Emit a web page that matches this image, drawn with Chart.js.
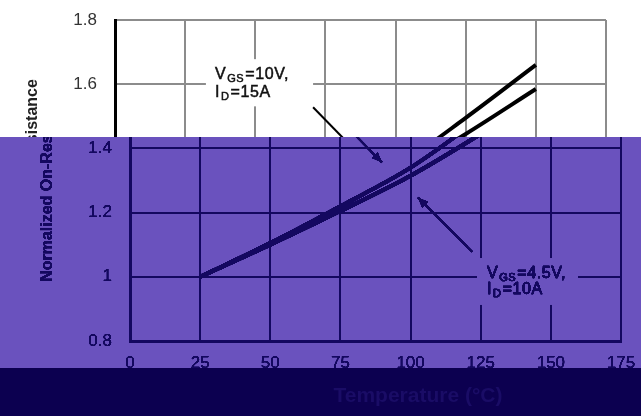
<!DOCTYPE html>
<html>
<head>
<meta charset="utf-8">
<script src="https://cdn.jsdelivr.net/npm/chart.js@4.4.1/dist/chart.umd.min.js"></script>
<style>
  html, body { margin: 0; padding: 0; background: #fff; }
  #wrap { width: 641px; height: 416px; }
</style>
</head>
<body>
<div id="wrap"><canvas id="chart"></canvas></div>
<script>
// normalized Rds(on) vs temperature
const temps = [25, 50, 75, 100, 125, 150];
const rVgs10 = [1.0, 1.105, 1.22, 1.34, 1.495, 1.66];
const rVgs45 = [1.0, 1.1, 1.205, 1.315, 1.445, 1.585];
const xTicks = [0, 25, 50, 75, 100, 125, 150, 175];
const yTicks = [0.8, 1.0, 1.2, 1.4, 1.6, 1.8];
const yTitle = 'Normalized On-Resistance';
const xTitle = 'Temperature (°C)';

// callouts, placed in data units (x = temp, y = resistance)
const notes = [
    {lines: [['V', 'GS', '=10V,'], ['I', 'D', '=15A']],
     box: [32.4, 1.678, 70.6, 1.531], textAt: [35.6, 1.616, 1.559],
     from: [70.6, 1.528], to: [89.8, 1.356]},
    {lines: [['V', 'GS', '=4.5V,'], ['I', 'D', '=10A']],
     box: [123.7, 1.059, 159.7, 0.9125], textAt: [127.2, 0.997, 0.947],
     from: [121.9, 1.078], to: [102.6, 1.247]}
];

const FONT = "'Liberation Sans', Arial, sans-serif";
const SPLIT_Y = 137, BAND_Y = 368, SHIFT = 15;
const purple = [106, 82, 190], navy = [20, 8, 96];

function arrow(ctx, x1, y1, x2, y2) {
    ctx.beginPath();
    ctx.moveTo(x1, y1);
    ctx.lineTo(x2, y2);
    ctx.stroke();
    const a = Math.atan2(y2 - y1, x2 - x1), L = 11, w = 0.38;
    ctx.beginPath();
    ctx.moveTo(x2, y2);
    ctx.lineTo(x2 - L * Math.cos(a - w), y2 - L * Math.sin(a - w));
    ctx.lineTo(x2 - L * Math.cos(a + w), y2 - L * Math.sin(a + w));
    ctx.closePath();
    ctx.fill();
}

function putText(ctx, s, x, y) {
    ctx.fillText(s, x, y);
    ctx.strokeText(s, x, y);
}

function subText(ctx, x, y, parts) {
    ctx.font = '16px ' + FONT;
    putText(ctx, parts[0], x, y);
    x += ctx.measureText(parts[0]).width + 1;
    ctx.font = '11px ' + FONT;
    putText(ctx, parts[1], x, y + 3);
    x += ctx.measureText(parts[1]).width + 1;
    ctx.font = '16px ' + FONT;
    putText(ctx, parts[2], x, y);
}

const pagePlugin = {
    id: 'page',
    beforeDraw(chart) {
        const c = chart.ctx;
        c.save();
        c.fillStyle = '#fff';
        c.fillRect(0, 0, chart.width, chart.height);
        c.restore();
    },
    afterDatasetsDraw(chart) {
        const c = chart.ctx, xs = chart.scales.x, ys = chart.scales.y;
        c.save();
        notes.forEach(n => {
            const bx1 = xs.getPixelForValue(n.box[0]), by1 = ys.getPixelForValue(n.box[1]);
            const bx2 = xs.getPixelForValue(n.box[2]), by2 = ys.getPixelForValue(n.box[3]);
            c.fillStyle = '#fff';
            c.fillRect(bx1, by1, bx2 - bx1, by2 - by1);
            c.fillStyle = '#111';
            c.strokeStyle = '#111';
            c.lineWidth = 0.5;
            c.textBaseline = 'alphabetic';
            c.letterSpacing = '0.6px';
            const tx = xs.getPixelForValue(n.textAt[0]);
            subText(c, tx, ys.getPixelForValue(n.textAt[1]), n.lines[0]);
            subText(c, tx, ys.getPixelForValue(n.textAt[2]), n.lines[1]);
            c.letterSpacing = '0px';
            c.strokeStyle = '#000';
            c.fillStyle = '#000';
            c.lineWidth = 2;
            arrow(c, xs.getPixelForValue(n.from[0]), ys.getPixelForValue(n.from[1]),
                xs.getPixelForValue(n.to[0]), ys.getPixelForValue(n.to[1]));
        });
        c.restore();
    },
    afterDraw(chart) {
        // the reference image is damaged: top strip shifted, middle recoloured, bottom band dark
        const c = chart.ctx, W = chart.width, H = chart.height;
        c.save();
        c.setTransform(1, 0, 0, 1, 0, 0);
        c.drawImage(c.canvas, SHIFT, 0, W - SHIFT, SPLIT_Y, 0, 0, W - SHIFT, SPLIT_Y);
        c.fillStyle = '#fff';
        c.fillRect(W - SHIFT, 0, SHIFT, SPLIT_Y);

        const img = c.getImageData(0, SPLIT_Y, W, BAND_Y - SPLIT_Y);
        const d = img.data;
        for (let i = 0; i < d.length; i += 4) {
            const L = (0.299 * d[i] + 0.587 * d[i + 1] + 0.114 * d[i + 2]) / 255;
            const t = Math.max(0, Math.min(1, (L - 0.72) / 0.24));
            d[i] = navy[0] + t * (purple[0] - navy[0]);
            d[i + 1] = navy[1] + t * (purple[1] - navy[1]);
            d[i + 2] = navy[2] + t * (purple[2] - navy[2]);
            d[i + 3] = 255;
        }
        c.putImageData(img, 0, SPLIT_Y);

        c.fillStyle = '#0c0050';
        c.fillRect(0, BAND_Y, W, H - BAND_Y);
        c.fillStyle = '#1a0c66';
        c.font = 'bold 21px ' + FONT;
        c.textAlign = 'center';
        c.textBaseline = 'middle';
        c.fillText(xTitle, 418, 396);
        c.restore();
    }
};

const tickFont = {family: FONT, size: 17};

new Chart(document.getElementById('chart'), {
    type: 'line',
    data: {
        datasets: [
            {label: 'VGS=10V, ID=15A', data: temps.map((t, i) => ({x: t, y: rVgs10[i]})),
             borderColor: '#000', borderWidth: 4, pointRadius: 0, cubicInterpolationMode: 'monotone'},
            {label: 'VGS=4.5V, ID=10A', data: temps.map((t, i) => ({x: t, y: rVgs45[i]})),
             borderColor: '#000', borderWidth: 4, pointRadius: 0, cubicInterpolationMode: 'monotone'}
        ]
    },
    options: {
        responsive: true,
        maintainAspectRatio: false,
        animation: false,
        layout: {padding: {top: 20, right: 20, left: 0, bottom: 0}},
        plugins: {legend: {display: false}, tooltip: {enabled: false}},
        scales: {
            x: {
                type: 'linear', min: 0, max: 175,
                afterBuildTicks: s => { s.ticks = xTicks.map(v => ({value: v})); },
                afterFit: s => { s.height = 75; s.paddingLeft = 0; s.paddingRight = 0; },
                grid: {color: '#8c8c8c', lineWidth: 2, drawTicks: false},
                border: {color: '#000', width: 3},
                ticks: {font: tickFont, color: '#333', padding: 12, maxRotation: 0, autoSkip: false}
            },
            y: {
                type: 'linear', min: 0.8, max: 1.8,
                afterBuildTicks: s => { s.ticks = yTicks.map(v => ({value: v})); },
                afterFit: s => { s.width = 130; s.paddingTop = 0; s.paddingBottom = 0; },
                grid: {color: '#8c8c8c', lineWidth: 2, drawTicks: false},
                border: {color: '#000', width: 3},
                ticks: {font: tickFont, color: '#333', padding: 18,
                        callback: v => String(Math.round(v * 10) / 10)},
                title: {display: true, text: yTitle, color: '#222',
                        font: {family: FONT, size: 16, weight: 'bold'}, padding: {top: 38, bottom: 0}}
            }
        }
    },
    plugins: [pagePlugin]
});
</script>
</body>
</html>
